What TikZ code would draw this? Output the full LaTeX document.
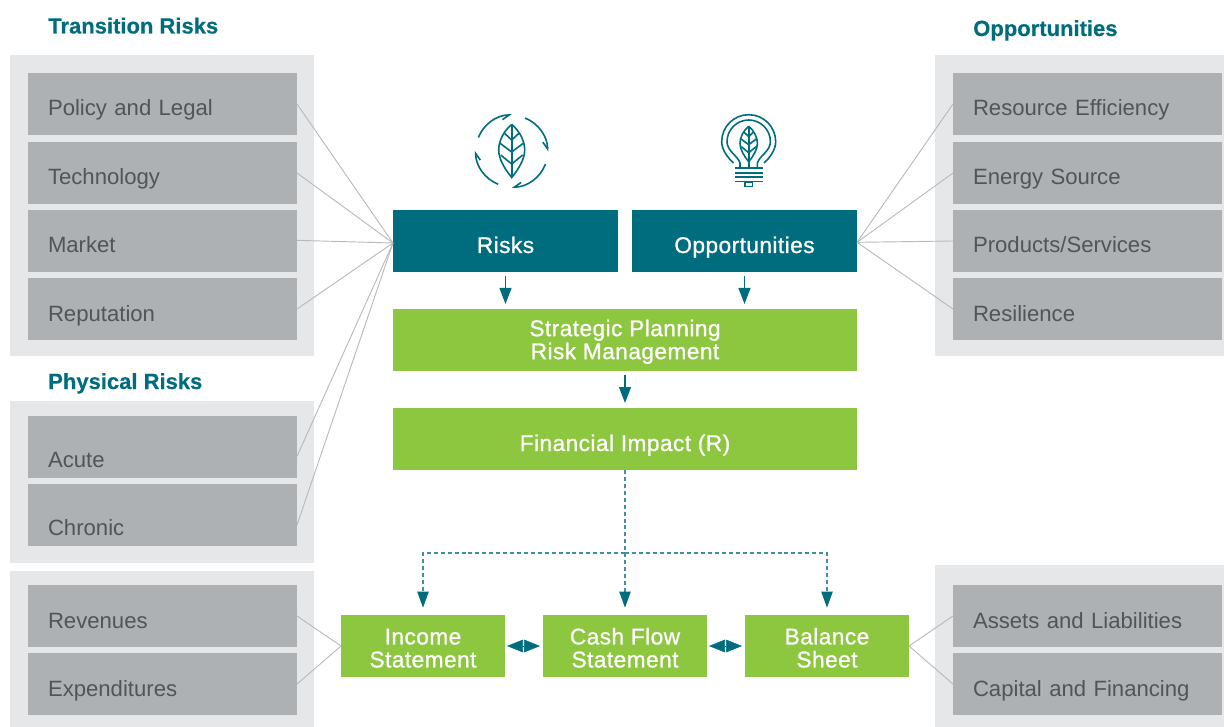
\documentclass[tikz,border=0pt]{standalone}
\usepackage{fontspec}
\setmainfont{Liberation Sans}
\newfontfamily\medfont[FakeBold=1,LetterSpace=2]{Liberation Sans}
\newfontfamily\titlefont[FakeBold=0.4]{Liberation Sans Bold}
\usetikzlibrary{arrows.meta}
\definecolor{tealbox}{HTML}{006D7E}
\definecolor{greenbox}{HTML}{8DC63F}
\definecolor{graybox}{HTML}{AEB1B3}
\definecolor{panelgray}{HTML}{E6E7E8}
\definecolor{linkgray}{HTML}{B7BABC}
\definecolor{graytext}{HTML}{525557}
\newcommand{\dn}{\rule{0pt}{15pt}}
\tikzset{
  leafpic/.pic={
    \draw[icon] (0,-26.5) .. controls (-8,-20) and (-13,-10) .. (-13,-1)
      .. controls (-13,8) and (-7,18) .. (0,26.5)
      .. controls (7,18) and (13,8) .. (13,-1)
      .. controls (13,-10) and (8,-20) .. (0,-26.5);
    \draw[icon] (0,-26.5) -- (0,26.5);
    \draw[icon] (-7.5,-18) -- (0,-11) -- (7.5,-18);
    \draw[icon] (-12,-8) -- (0,1) -- (12,-8);
    \draw[icon] (-11,4) -- (0,13) -- (11,4);
  }
}
\begin{document}
\begin{tikzpicture}[x=0.75pt,y=-0.75pt,
  icon/.style={tealbox,line width=1.2pt},
  panel/.style={fill=panelgray},
  item/.style={fill=graybox,text=graytext,minimum width=201.75pt,minimum height=46.5pt,
    inner xsep=15pt,inner ysep=0pt,outer sep=0pt,text width=171.75pt,align=left,
    font=\fontsize{16.6}{18}\selectfont,text height=18pt,text depth=0pt},
  lowitem/.style={item,text height=30pt},
  tealnode/.style={fill=tealbox,text=white,minimum height=46.5pt,outer sep=0pt,inner sep=0pt,
    align=center,font=\medfont\fontsize{17}{17.25}\selectfont},
  greennode/.style={tealnode,fill=greenbox},
  oneline/.style={text height=18pt,text depth=0pt},
  title/.style={anchor=base west,inner sep=0pt,text=tealbox,font=\titlefont\fontsize{16.5}{18}\selectfont},
  link/.style={linkgray,line width=0.7pt},
  flow/.style={tealbox,line width=0.8pt,-{Triangle[width=9pt,length=12pt]},shorten >=3.75pt,shorten <=3pt},
  dashflow/.style={draw=tealbox!75,line width=0.8pt,dash pattern=on 3pt off 2.2pt,
    -{Triangle[width=8.5pt,length=12pt,color=tealbox,fill=tealbox]},shorten >=5.5pt},
  biflow/.style={tealbox,line width=0.4pt,{Triangle[width=9.5pt,length=12pt]}-{Triangle[width=9.5pt,length=12pt]},
    shorten <=1.5pt,shorten >=2.25pt},
]
\useasboundingbox (0,0) rectangle (1224,727);

\fill[panel] (10,55) rectangle (314,356);
\fill[panel] (10,401) rectangle (314,563);
\fill[panel] (10,571) rectangle (314,727);
\fill[panel] (935,55) rectangle (1224,356);
\fill[panel] (935,565) rectangle (1224,727);

\node[title] (transitiontitle) at (48,33.5) {Transition Risks};
\node[title] (physicaltitle) at (48,389) {Physical Risks};
\node[title] (opptitle) at (973,36) {Opportunities};

% left column
\node[item] (policy) at (162.5,104) {Policy and Legal};
\node[item] (technology) at (162.5,173) {Technology};
\node[item] (market) at (162.5,241) {Market};
\node[item] (reputation) at (162.5,309) {Reputation};
\node[lowitem] (acute) at (162.5,447) {Acute};
\node[lowitem] (chronic) at (162.5,515) {Chronic};
\node[item] (revenues) at (162.5,616) {Revenues};
\node[item] (expenditures) at (162.5,684) {Expenditures};

% right column
\node[item] (resource) at (1087.5,104) {Resource Efficiency};
\node[item] (energy) at (1087.5,173) {Energy Source};
\node[item] (products) at (1087.5,241) {Products/Services};
\node[item] (resilience) at (1087.5,309) {Resilience};
\node[item] (assets) at (1087.5,616) {Assets and Liabilities};
\node[item] (capital) at (1087.5,684) {Capital and Financing};

% middle
\node[tealnode,oneline,minimum width=168.75pt] (risks) at (505.5,241) {Risks};
\node[tealnode,oneline,minimum width=168.75pt] (opps) at (744.5,241) {Opportunities};
\node[greennode,minimum width=348pt] (strategic) at (625,340) {\dn Strategic Planning\\Risk Management};
\node[greennode,oneline,minimum width=348pt] (impact) at (625,439) {Financial Impact (R)};
\node[greennode,minimum width=123pt] (income) at (423,646) {\dn Income\\Statement};
\node[greennode,minimum width=123pt] (cash) at (625,646) {\dn Cash Flow\\Statement};
\node[greennode,minimum width=123pt] (balance) at (827,646) {\dn Balance\\Sheet};

\coordinate (riskjoin) at ([yshift=-1.5pt]risks.west);
\coordinate (oppjoin) at ([yshift=-1pt]opps.east);
\draw[link] (policy.east) -- (riskjoin);
\draw[link] (technology.east) -- (riskjoin);
\draw[link] ([yshift=0.5pt]market.east) -- (riskjoin);
\draw[link] (reputation.east) -- (riskjoin);
\draw[link] ([yshift=-7pt]acute.east) -- (riskjoin);
\draw[link] ([yshift=-7.5pt]chronic.east) -- (riskjoin);
\draw[link] (resource.west) -- (oppjoin);
\draw[link] (energy.west) -- (oppjoin);
\draw[link] (products.west) -- (oppjoin);
\draw[link] (resilience.west) -- (oppjoin);
\draw[link] (revenues.east) -- (income.west);
\draw[link] (expenditures.east) -- (income.west);
\draw[link] (assets.west) -- (balance.east);
\draw[link] (capital.west) -- (balance.east);

\draw[flow] (risks.south) -- (risks.south |- strategic.north);
\draw[flow] (opps.south) -- (opps.south |- strategic.north);
\draw[flow] (strategic.south) -- (impact.north);

\coordinate (split) at (625,553);
\draw[dashflow] (impact.south) -- (cash.north);
\draw[dashflow] (split) -| (income.north);
\draw[dashflow] (split) -| (balance.north);
\draw[biflow] (income.east) -- (cash.west);
\draw[biflow] (cash.east) -- (balance.west);

% icons
\pic at (511.7,151) {leafpic};
\begin{scope}[icon,-{Straight Barb[harpoon,swap,length=5pt,width=7pt]}]
  \draw (478.3,137.5) arc[start angle=-158,end angle=-90,radius=36];
  \draw (525,118) arc[start angle=-68,end angle=0,radius=36];
  \draw (545.5,164) arc[start angle=21,end angle=90,radius=36];
  \draw (498.2,184.3) arc[start angle=112,end angle=180,radius=36];
\end{scope}

\pic[scale=0.67] at (748.7,144) {leafpic};
\draw[icon] (748.7,160) -- (748.7,168);
\draw[icon] (733.5,163) .. controls (728,158) and (721.7,150) .. (721.7,141.7)
  arc[start angle=180,end angle=360,radius=27]
  .. controls (775.7,150) and (769.5,158) .. (764,163);
\draw[icon] (740,168) -- (740,163) .. controls (738,156) and (727,151) .. (727,141.7)
  arc[start angle=180,end angle=360,radius=21.7]
  .. controls (770.4,151) and (759.4,156) .. (757.4,163) -- (757.4,168);
\draw[icon] (735,168.3) -- (762.7,168.3);
\draw[icon] (735,173) -- (762.7,173);
\draw[icon] (735,177.3) -- (762.7,177.3);
\draw[icon] (735,181.7) -- (762.7,181.7);
\draw[icon] (745,182) rectangle (752.5,186.5);
\end{tikzpicture}
\end{document}
